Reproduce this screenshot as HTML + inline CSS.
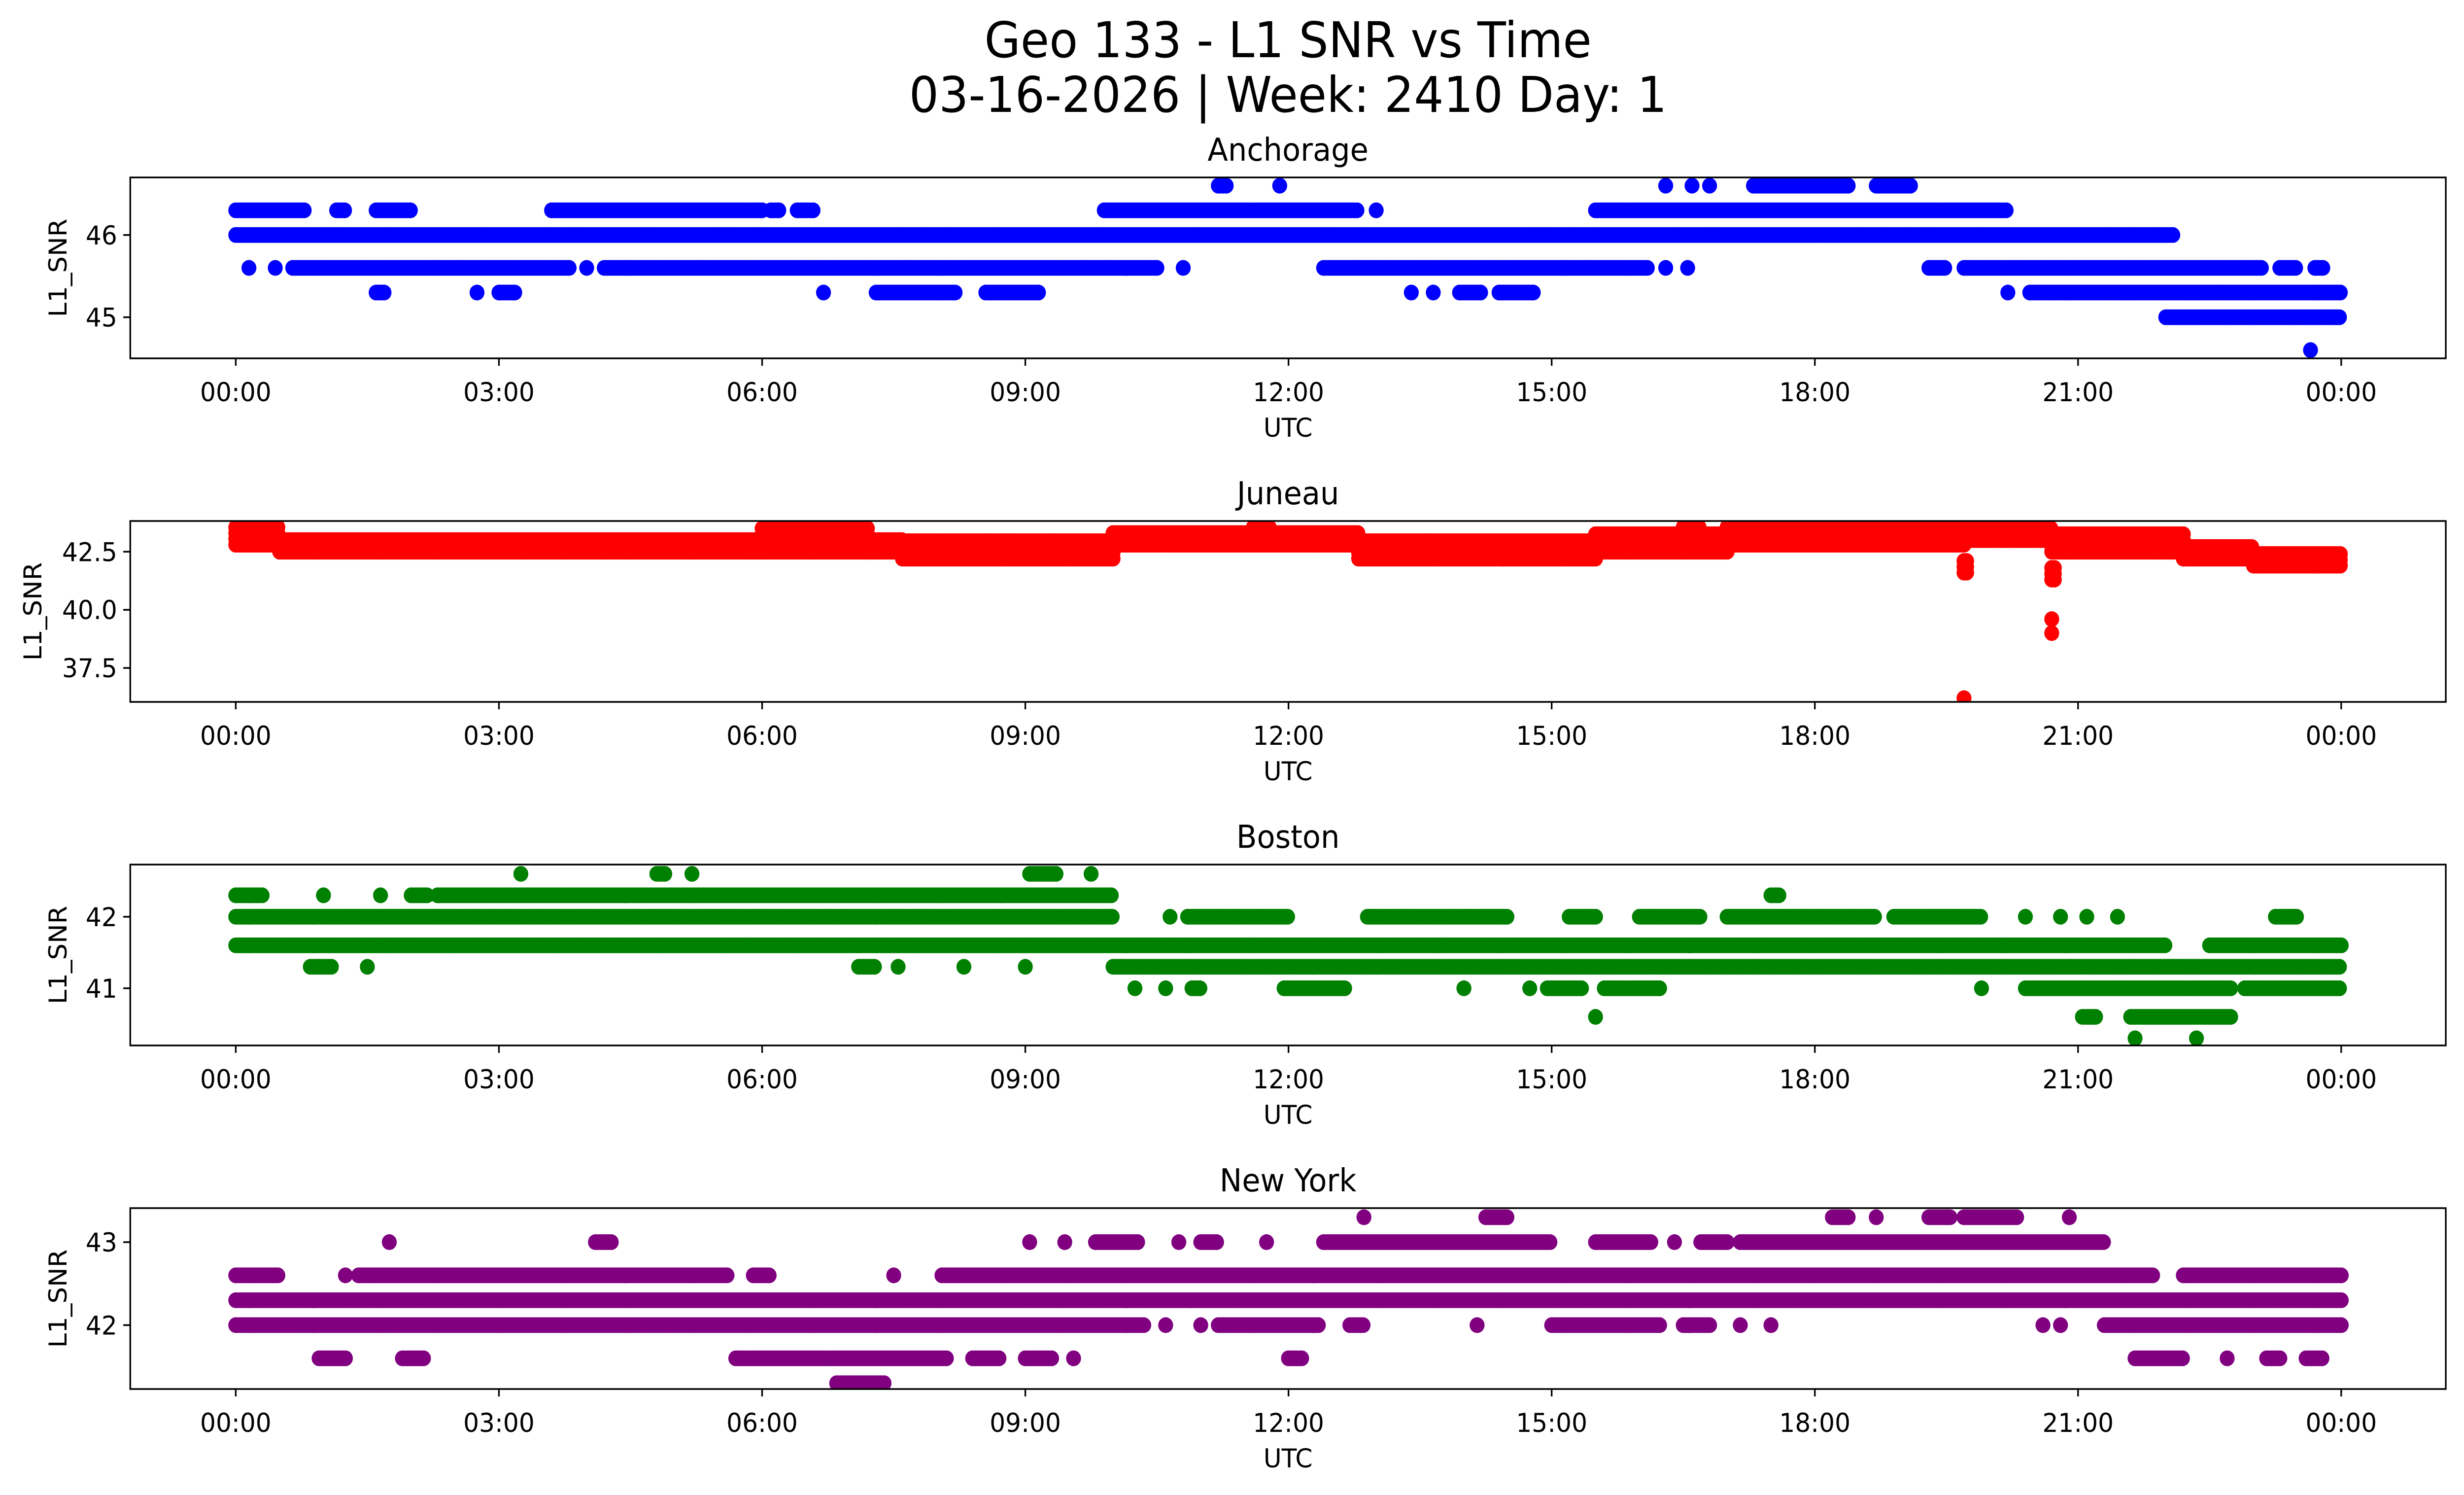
<!DOCTYPE html>
<html><head><meta charset="utf-8"><title>Geo 133 - L1 SNR vs Time</title>
<style>
html,body{margin:0;padding:0;background:#fff;width:100%;height:100%;overflow:hidden;}
svg{display:block;width:100vw;height:100vh;}
text{font-family:"DejaVu Sans","Liberation Sans",sans-serif;fill:#000;}
</style></head>
<body>
<svg id="fig" xmlns="http://www.w3.org/2000/svg" viewBox="0 0 5278 3033" preserveAspectRatio="none">
<rect x="0" y="0" width="5278" height="3033" fill="#fff"/>
<text x="2759" y="116" font-size="100" text-anchor="middle">Geo 133 - L1 SNR vs Time</text>
<text x="2759" y="227" font-size="100" text-anchor="middle">03-16-2026 | Week: 2410 Day: 1</text>
</svg>
<script>
// ---- data: runs of [startHour, endHour, SNR] ----
const hourTicks = [0,3,6,9,12,15,18,21,24];
const hourTickLabels = ["00:00","03:00","06:00","09:00","12:00","15:00","18:00","21:00","00:00"];

const anchorageRuns = [
 [11.2,11.3,46.6],[11.9,11.9,46.6],[16.3,16.3,46.6],[16.6,16.6,46.6],[16.8,16.8,46.6],[17.3,18.4,46.6],[18.7,19.1,46.6],
 [0,0.8,46.3],[1.15,1.25,46.3],[1.6,2.0,46.3],[3.6,6.0,46.3],[6.1,6.2,46.3],[6.4,6.6,46.3],[9.9,12.8,46.3],[13.0,13.0,46.3],[15.5,20.2,46.3],
 [0,22.1,46.0],
 [0.15,0.15,45.6],[0.45,0.45,45.6],[0.65,3.8,45.6],[4.0,4.0,45.6],[4.2,10.5,45.6],[10.8,10.8,45.6],[12.4,16.1,45.6],[16.3,16.3,45.6],[16.55,16.55,45.6],[19.3,19.5,45.6],[19.7,23.1,45.6],[23.3,23.5,45.6],[23.7,23.8,45.6],
 [1.6,1.7,45.3],[2.75,2.75,45.3],[3.0,3.2,45.3],[6.7,6.7,45.3],[7.3,8.2,45.3],[8.55,9.15,45.3],[13.4,13.4,45.3],[13.65,13.65,45.3],[13.95,14.2,45.3],[14.4,14.8,45.3],[20.2,20.2,45.3],[20.45,24,45.3],
 [22.0,24,45.0],[23.65,23.65,44.6]
];
// Juneau: [start, end, low, high] band of values
const juneauBands = [
 [0,0.5,42.8,43.6],[0.5,6.0,42.5,43.1],[6.0,7.2,42.5,43.6],[7.2,7.6,42.5,43.1],[7.6,10.0,42.2,43.0],[10.0,12.8,42.8,43.3],
 [11.6,11.8,43.3,43.6],[12.8,15.5,42.2,43.0],[15.5,17.0,42.5,43.3],[16.5,16.7,43.3,43.6],[17.0,19.7,42.8,43.6],[19.7,20.7,43.0,43.6],
 [19.7,19.75,41.6,42.2],[20.7,20.75,41.3,42.0],[20.7,22.2,42.5,43.3],[22.2,23.0,42.2,42.8],[23.0,24.0,41.9,42.5]
];
const juneauOutliers = [[19.7,36.2],[20.7,39.6],[20.7,39.0]];

const bostonRuns = [
 [3.25,3.25,42.6],[4.8,4.9,42.6],[5.2,5.2,42.6],[9.05,9.35,42.6],[9.75,9.75,42.6],
 [0,0.3,42.3],[1.0,1.0,42.3],[1.65,1.65,42.3],[2.0,2.2,42.3],[2.3,10.0,42.3],[17.5,17.6,42.3],
 [0,10.0,42.0],[10.65,10.65,42.0],[10.85,12.0,42.0],[12.9,14.5,42.0],[15.2,15.5,42.0],[16.0,16.7,42.0],[17.0,18.7,42.0],[18.9,19.9,42.0],[20.4,20.4,42.0],[20.8,20.8,42.0],[21.1,21.1,42.0],[21.45,21.45,42.0],[23.25,23.5,42.0],
 [0,22.0,41.6],[22.5,24,41.6],
 [0.85,1.1,41.3],[1.5,1.5,41.3],[7.1,7.3,41.3],[7.55,7.55,41.3],[8.3,8.3,41.3],[9.0,9.0,41.3],[10.0,24,41.3],
 [10.25,10.25,41.0],[10.6,10.6,41.0],[10.9,11.0,41.0],[11.95,12.65,41.0],[14.0,14.0,41.0],[14.75,14.75,41.0],[14.95,15.35,41.0],[15.6,16.25,41.0],[19.9,19.9,41.0],[20.4,22.75,41.0],[22.9,24,41.0],
 [15.5,15.5,40.6],[21.05,21.2,40.6],[21.6,22.75,40.6],[21.65,21.65,40.3],[22.35,22.35,40.3]
];
const newYorkRuns = [
 [12.86,12.86,43.3],[14.25,14.5,43.3],[18.2,18.4,43.3],[18.7,18.7,43.3],[19.3,19.55,43.3],[19.7,20.3,43.3],[20.9,20.9,43.3],
 [1.75,1.75,43.0],[4.1,4.3,43.0],[9.05,9.05,43.0],[9.45,9.45,43.0],[9.8,10.3,43.0],[10.75,10.75,43.0],[11.0,11.2,43.0],[11.75,11.75,43.0],[12.4,15.0,43.0],[15.5,16.15,43.0],[16.4,16.4,43.0],[16.7,17.0,43.0],[17.15,21.3,43.0],
 [0,0.5,42.6],[1.25,1.25,42.6],[1.4,5.6,42.6],[5.9,6.1,42.6],[7.5,7.5,42.6],[8.05,21.85,42.6],[22.2,24,42.6],
 [0,24,42.3],
 [0,10.35,42.0],[10.6,10.6,42.0],[11.0,11.0,42.0],[11.2,12.35,42.0],[12.7,12.85,42.0],[14.15,14.15,42.0],[15.0,16.25,42.0],[16.5,16.8,42.0],[17.15,17.15,42.0],[17.5,17.5,42.0],[20.6,20.6,42.0],[20.8,20.8,42.0],[21.3,24,42.0],
 [0.95,1.25,41.6],[1.9,2.15,41.6],[5.7,8.1,41.6],[8.4,8.7,41.6],[9.0,9.3,41.6],[9.55,9.55,41.6],[12.0,12.15,41.6],[21.65,22.2,41.6],[22.7,22.7,41.6],[23.15,23.3,41.6],[23.6,23.8,41.6],
 [6.85,7.4,41.3]
];

const anchorageTicks = [45,46];
const juneauTicks = [37.5,40.0,42.5];
const bostonTicks = [41,42];
const newYorkTicks = [42,43];

// ---- layout ----
const NS = "http://www.w3.org/2000/svg";
const svg = document.getElementById('fig');
const AX_L = 279, AX_R = 5239, AX_H = 367;
const X0 = 505, X24 = 5015;
function xScale(h){ return X0 + (X24 - X0) * h / 24; }
function mk(tag, attrs, parent){
  const e = document.createElementNS(NS, tag);
  for (const k in attrs) e.setAttribute(k, attrs[k]);
  (parent || svg).appendChild(e);
  return e;
}
function expandRuns(runs){
  const pts = [];
  runs.forEach(r => {
    if (r[1] <= r[0]) { pts.push([r[0], r[2]]); return; }
    for (let h = r[0]; h <= r[1] + 1e-9; h += 0.03) pts.push([h, r[2]]);
  });
  return pts;
}
function expandBands(bands, outliers){
  const pts = [];
  bands.forEach(b => {
    for (let v = b[2]; v <= b[3] + 1e-9; v += 0.25)
      for (let h = b[0]; h <= b[1] + 1e-9; h += 0.03) pts.push([h, v]);
  });
  outliers.forEach(o => pts.push([o[0], o[1]]));
  return pts;
}

const panels = [
 {key:'anchorage', title:'Anchorage', top:360, ymin:44.50, ymax:46.70, ticks:anchorageTicks, fmt:v=>v.toFixed(0), color:'#0000ff', pts:expandRuns(anchorageRuns), ylx:125},
 {key:'juneau', title:'Juneau', top:1057, ymin:36.04, ymax:43.82, ticks:juneauTicks, fmt:v=>v.toFixed(1), color:'#ff0000', pts:expandBands(juneauBands, juneauOutliers), ylx:71},
 {key:'boston', title:'Boston', top:1754, ymin:40.20, ymax:42.73, ticks:bostonTicks, fmt:v=>v.toFixed(0), color:'#008000', pts:expandRuns(bostonRuns), ylx:125},
 {key:'new-york', title:'New York', top:2451, ymin:41.23, ymax:43.41, ticks:newYorkTicks, fmt:v=>v.toFixed(0), color:'#800080', pts:expandRuns(newYorkRuns), ylx:125}
];

panels.forEach(p => {
  const g = mk('g', {});
  
  
  const bottom = p.top + AX_H;
  const yScale = v => bottom - (v - p.ymin) / (p.ymax - p.ymin) * AX_H;
  const clipId = 'clip-' + p.key;
  const cp = mk('clipPath', {id: clipId}, g);
  mk('rect', {x: AX_L, y: p.top, width: AX_R - AX_L, height: AX_H}, cp);

  const dots = mk('g', {fill: p.color, 'clip-path': 'url(#' + clipId + ')'}, g);
  
  
  p.pts.forEach(pt => {
    const c = mk('circle', {cx: xScale(pt[0]).toFixed(1), cy: yScale(pt[1]).toFixed(1), r: 16}, dots);
    
    
  });

  const frame = mk('rect', {x: AX_L, y: p.top, width: AX_R - AX_L, height: AX_H, fill: 'none', stroke: '#000', 'stroke-width': 3.5}, g);
  
  

  hourTicks.forEach((h, i) => {
    const x = xScale(h);
    mk('line', {x1: x, y1: bottom, x2: x, y2: bottom + 15, stroke: '#000', 'stroke-width': 3.5}, g);
    const t = mk('text', {x: x, y: bottom + 87, 'font-size': 53, 'text-anchor': 'middle'}, g);
    t.textContent = hourTickLabels[i];
    
    
  });
  p.ticks.forEach(v => {
    const y = yScale(v);
    mk('line', {x1: AX_L - 15, y1: y, x2: AX_L, y2: y, stroke: '#000', 'stroke-width': 3.5}, g);
    const t = mk('text', {x: AX_L - 28, y: y + 19, 'font-size': 53, 'text-anchor': 'end'}, g);
    t.textContent = p.fmt(v);
    
    
  });
  const xl = mk('text', {x: 2759, y: bottom + 159, 'font-size': 53, 'text-anchor': 'middle'}, g);
  xl.textContent = 'UTC';
  
  
  const yc = p.top + AX_H / 2;
  const yl = mk('text', {x: p.ylx, y: yc, 'font-size': 53, 'text-anchor': 'middle', transform: 'rotate(-90 ' + p.ylx + ' ' + yc + ')', 'dominant-baseline': 'central'}, g);
  yl.textContent = 'L1_SNR';
  
  
  const tt = mk('text', {x: 2759, y: p.top - 34, 'font-size': 64, 'text-anchor': 'middle'}, g);
  tt.textContent = p.title;
  
  
});
</script>
</body></html>
